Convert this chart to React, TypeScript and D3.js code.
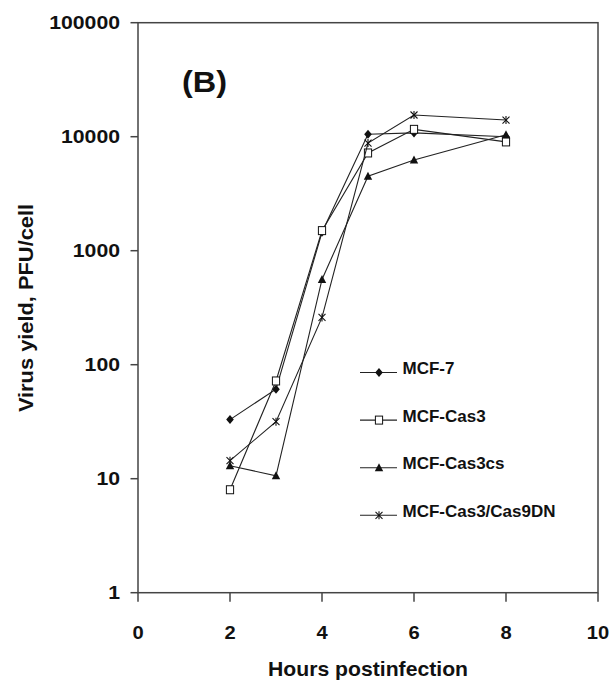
import React from 'react';
import * as d3 from 'd3';

// hours postinfection and virus yield (PFU/cell)
const hours = [2, 3, 4, 5, 6, 8];
const mcf7 = [33, 61, 1450, 10500, 10800, 10000];
const mcfCas3 = [8, 72, 1500, 7200, 11600, 9000];
const mcfCas3cs = [13, 10.6, 560, 4500, 6250, 10400];
const mcfCas9DN = [14.4, 31.6, 260, 8800, 15500, 14000];

const seriesNames = ['MCF-7', 'MCF-Cas3', 'MCF-Cas3cs', 'MCF-Cas3/Cas9DN'];
const seriesMarkers = ['diamond', 'square', 'triangle', 'star'];
const seriesValues = [mcf7, mcfCas3, mcfCas3cs, mcfCas9DN];

const xTicks = [0, 2, 4, 6, 8, 10];
const yTicks = [1, 10, 100, 1000, 10000, 100000];

const FONT = '"Liberation Sans", Arial, sans-serif';
const INK = '#111';

const Marker = ({ type, cx, cy }) => {
    if (type === 'diamond') {
        return <path d={`M${cx},${cy - 4.5}L${cx + 3.8},${cy}L${cx},${cy + 4.5}L${cx - 3.8},${cy}Z`} fill={INK} />;
    }
    if (type === 'square') {
        return <rect x={cx - 3.6} y={cy - 4} width={7.2} height={8} fill="#fff" stroke={INK} strokeWidth={1} />;
    }
    if (type === 'triangle') {
        return <path d={`M${cx},${cy - 4.5}L${cx + 4.2},${cy + 3.5}L${cx - 4.2},${cy + 3.5}Z`} fill={INK} />;
    }
    // asterisk
    return (
        <g stroke={INK} strokeWidth={1.1}>
            <line x1={cx - 3.5} y1={cy - 3.5} x2={cx + 3.5} y2={cy + 3.5} />
            <line x1={cx - 3.5} y1={cy + 3.5} x2={cx + 3.5} y2={cy - 3.5} />
            <line x1={cx} y1={cy - 4} x2={cx} y2={cy + 4} />
        </g>
    );
};

// bold text, widened horizontally like the scanned figure
const Label = ({ x, y, size, sx = 1, anchor = 'start', rotate = 0, children }) => (
    <text
        transform={`translate(${x},${y}) rotate(${rotate}) scale(${sx},1)`}
        fontFamily={FONT}
        fontWeight="bold"
        fontSize={size}
        fill={INK}
        textAnchor={anchor}
    >
        {children}
    </text>
);

export default function App() {
    const width = 611;
    const height = 683;

    const x = d3.scaleLinear().domain([0, 10]).range([138, 598]);
    const y = d3.scaleLog().domain([1, 100000]).range([592.7, 22.7]);

    const line = d3.line()
        .x(d => x(d[0]))
        .y(d => y(d[1]));

    const legendX = 360;
    const legendY = 372.5;
    const legendStep = 47.6;

    return (
        <svg
            width={width}
            height={height}
            style={{ position: 'absolute', left: 0, top: 0, background: '#fff' }}
        >
            <rect width={width} height={height} fill="#fff" />

            {/* frame */}
            <rect
                x={x(0)} y={y(100000)}
                width={x(10) - x(0)} height={y(1) - y(100000)}
                fill="none" stroke="#444" strokeWidth={1.5}
            />

            {/* y axis */}
            {yTicks.map(t => (
                <g key={t}>
                    <line x1={x(0) - 7.5} x2={x(0)} y1={y(t)} y2={y(t)} stroke="#444" strokeWidth={1.5} />
                    <Label x={120} y={y(t) + 6} size={18} sx={1.18} anchor="end">{t}</Label>
                </g>
            ))}

            {/* x axis */}
            {xTicks.map(t => (
                <g key={t}>
                    <line x1={x(t)} x2={x(t)} y1={y(1)} y2={y(1) + 9} stroke="#444" strokeWidth={1.5} />
                    <Label x={x(t)} y={639} size={18} sx={1.12} anchor="middle">{t}</Label>
                </g>
            ))}

            <Label x={x(5)} y={676} size={20} sx={1.06} anchor="middle">Hours postinfection</Label>
            <Label x={33} y={308} size={21} sx={1.04} anchor="middle" rotate={-90}>Virus yield, PFU/cell</Label>
            <Label x={182} y={92} size={30} sx={1.08}>(B)</Label>

            {/* series */}
            {seriesValues.map((vals, i) => {
                const pts = hours.map((h, j) => [h, vals[j]]);
                return (
                    <g key={seriesNames[i]}>
                        <path d={line(pts)} fill="none" stroke="#222" strokeWidth={1.1} />
                        {pts.map((p, j) => (
                            <Marker key={j} type={seriesMarkers[i]} cx={x(p[0])} cy={y(p[1])} />
                        ))}
                    </g>
                );
            })}

            {/* legend */}
            {seriesNames.map((name, i) => {
                const ly = legendY + i * legendStep;
                return (
                    <g key={name}>
                        <line x1={legendX} x2={legendX + 37} y1={ly} y2={ly} stroke="#222" strokeWidth={1.1} />
                        <Marker type={seriesMarkers[i]} cx={legendX + 19} cy={ly} />
                        <Label x={402.5} y={ly + 1.5} size={17} sx={1}>{name}</Label>
                    </g>
                );
            })}
        </svg>
    );
}
